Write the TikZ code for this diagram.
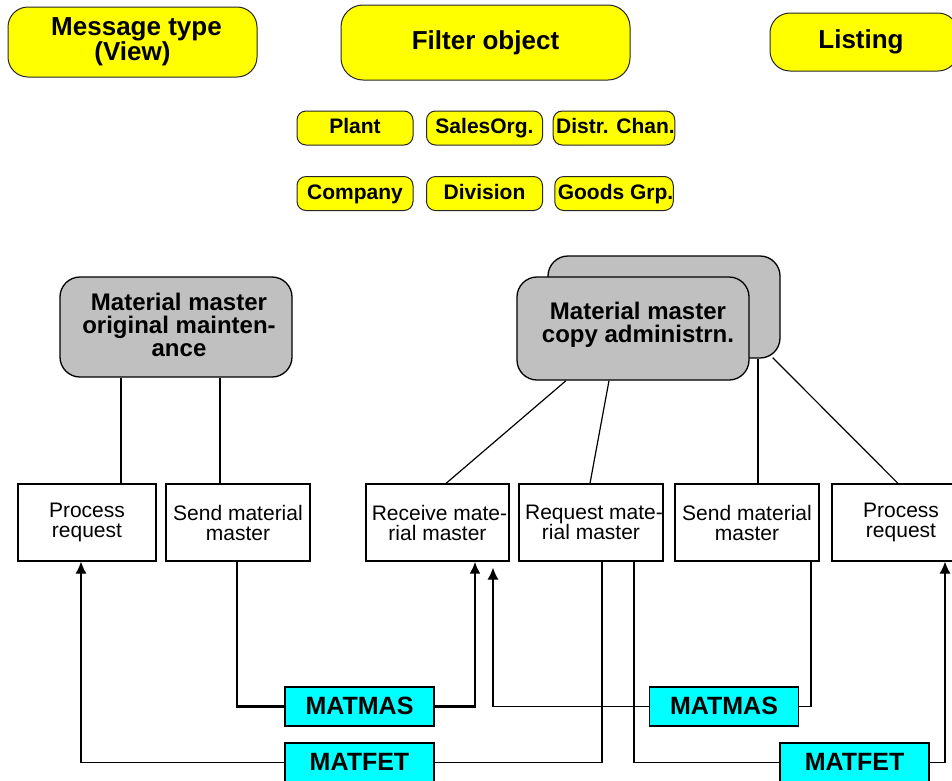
\documentclass[tikz,border=0pt]{standalone}
\usepackage{fontspec}
\setmainfont{Liberation Sans}
\usetikzlibrary{calc,arrows.meta}
\definecolor{viewyellow}{RGB}{255,255,0}
\definecolor{sysgray}{RGB}{192,192,192}
\definecolor{idoccyan}{RGB}{0,255,255}
\begin{document}
\begin{tikzpicture}[x=1pt,y=-1pt,
  every node/.style={inner sep=0pt, align=center},
  view/.style={draw=black!85, fill=viewyellow, rounded corners=20pt, line width=1pt,
    font=\fontsize{26}{24}\selectfont\bfseries},
  attr/.style={draw=black!85, fill=viewyellow, rounded corners=9pt, line width=1pt,
    minimum width=116pt, minimum height=34pt, text height=15pt, text depth=4pt,
    font=\fontsize{21}{21}\selectfont\bfseries},
  sysbox/.style={draw=black, fill=sysgray, rounded corners=20pt, line width=1.3pt,
    minimum width=232pt, font=\fontsize{24}{23}\selectfont\bfseries},
  func/.style={draw=black, fill=white, line width=1.2pt, minimum height=77pt,
    font=\fontsize{21}{20}\selectfont},
  idoc/.style={draw=black, fill=idoccyan, line width=1.2pt, minimum width=149pt,
    minimum height=39pt, text height=18pt, text depth=3pt,
    font=\fontsize{25}{25}\selectfont\bfseries},
  link/.style={draw=black, line width=1.2pt},
  flow/.style={link, -{Latex[length=12pt,width=11pt]}},
  heavy/.style={line width=2.6pt}
]
\useasboundingbox (0,0) rectangle (952,780);

% header boxes
\node[view, minimum width=249pt, minimum height=70pt] (mt) at (132.5,42) {\hspace*{8pt}Message type\\(View)};
\node[view, minimum width=289pt, minimum height=75pt, rounded corners=22pt] (fo) at (485.5,42.5) {Filter object};
\node[view, minimum width=188pt, minimum height=58pt] (li) at (864,42) {\hspace*{-6pt}Listing};

% filter attributes
\node[attr] (plant) at (355,128) {Plant};
\node[attr] (sorg)  at (484.5,128) {SalesOrg.};
\node[attr] (dch)   at (614,128) {\hspace*{3pt}Distr. Chan.};
\node[attr] (comp)  at (355,193.5) {Company};
\node[attr] (div)   at (484.5,193.5) {Division};
\node[attr] (ggrp)  at (614,193.5) {\hspace*{3pt}Goods Grp.};

% systems
\node[sysbox, minimum height=100pt] (orig) at (176,327) {};
\node[font=\fontsize{24}{23}\selectfont\bfseries] (origtxt) at (179,325) {Material master\\original mainten-\\ance};
\node[sysbox, minimum height=102pt] (back) at (664,307) {};
\node[sysbox, minimum height=103pt] (copy) at (633,328.5) {};
\node[font=\fontsize{24}{23}\selectfont\bfseries] (copytxt) at (638,325) {Material master\\copy administrn.};

% functions
\node[func, minimum width=138pt] (pr1) at (87,522.5) {Process\\request};
\node[func, minimum width=144pt] (sm1) at (238,522.5) {Send material\\master};
\node[func, minimum width=143pt] (rm)  at (437.5,522.5) {\hspace*{4pt}Receive mate-\\rial master};
\node[func, minimum width=144pt] (rq)  at (591,522.5) {\hspace*{6pt}Request mate-\\rial master};
\node[func, minimum width=144pt] (sm2) at (747,522.5) {Send material\\master};
\node[func, minimum width=138pt] (pr2) at (901,522.5) {Process\\request};

% IDocs
\node[idoc] (mm1) at (359.5,706.5) {MATMAS};
\node[idoc] (mm2) at (724,706.5) {MATMAS};
\node[idoc] (mf1) at (359.5,762.5) {MATFET};
\node[idoc] (mf2) at (854.5,762.5) {MATFET};

% system to function links
\coordinate (o1) at ($(pr1.north)+(34,0)$);
\coordinate (o2) at ($(sm1.north)+(-18,0)$);
\draw[link] (o1) -- (o1 |- orig.south);
\draw[link] (o2) -- (o2 |- orig.south);
\draw[link] ($(copy.south)+(-67,0)$) -- ($(rm.north)+(8.5,0)$);
\draw[link] ($(copy.south)+(-24,0)$) -- ($(rq.north)+(-1,0)$);
\coordinate (b1) at ($(sm2.north)+(11,0)$);
\draw[link] (b1) -- (b1 |- back.south);
\draw[link] ($(back.south east)+(-8,-1)$) -- ($(pr2.north)+(-3,0)$);

% message flows
\draw[flow] (mf1.west) -| ($(pr1.south)+(-6,0)$);
\draw[link] ($(rq.south)+(11,0)$) |- (mf1.east);
\draw[link, heavy] ($(sm1.south)+(-1,0)$) |- (mm1.west);
\draw[flow, heavy, -{Latex[length=12pt,width=11pt]}] (mm1.east) -| ($(rm.south)+(37.5,0)$);
\draw[link] ($(sm2.south)+(64,0)$) |- (mm2.east);
\draw[flow] (mm2.west) -| ($(rm.south)+(55.5,6)$);
\draw[link] ($(rq.south)+(43,0)$) |- (mf2.west);
\draw[flow] (mf2.east) -| ($(pr2.south)+(44,0)$);
\end{tikzpicture}
\end{document}
